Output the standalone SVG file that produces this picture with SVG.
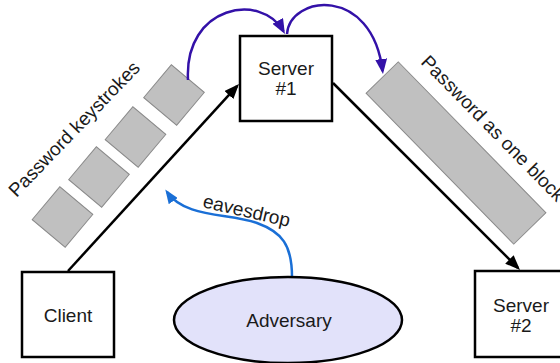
<svg xmlns="http://www.w3.org/2000/svg" width="560" height="363" viewBox="0 0 560 363">
  <style>
    .box { fill: #ffffff; stroke: #000000; stroke-width: 2.5; }
    .label { font-family: "Liberation Sans", Arial, sans-serif; font-size: 19px; fill: #1a1a1a; }
    .mid { text-anchor: middle; }
    .packet { fill: #c0c0c0; stroke: #8a8a8a; stroke-width: 1; }
    .link { fill: none; stroke: #000000; stroke-width: 2.5; }
    .hop { fill: none; stroke: #3311a8; stroke-width: 2.5; }
    .tap { fill: none; stroke: #1a6fd6; stroke-width: 2.5; }
  </style>
  <defs>
    <marker id="head-black" viewBox="0 0 15 12" refX="12" refY="6" markerWidth="15" markerHeight="12" markerUnits="userSpaceOnUse" orient="auto">
      <path d="M0,0 L15,6 L0,12 z" fill="#000000"/>
    </marker>
    <marker id="head-purple" viewBox="0 0 15 12" refX="12" refY="6" markerWidth="15" markerHeight="12" markerUnits="userSpaceOnUse" orient="auto">
      <path d="M0,0 L15,6 L0,12 z" fill="#3311a8"/>
    </marker>
    <marker id="head-blue" viewBox="0 0 14 11" refX="11" refY="5.5" markerWidth="14" markerHeight="11" markerUnits="userSpaceOnUse" orient="auto">
      <path d="M0,0 L14,5.5 L0,11 z" fill="#1a6fd6"/>
    </marker>
  </defs>

  <!-- keystroke packets along the client link -->
  <g id="keystrokes">
    <rect class="packet" x="-21.5" y="-21.5" width="43" height="43" transform="translate(174,95) rotate(40)"/>
    <rect class="packet" x="-21.5" y="-21.5" width="43" height="43" transform="translate(135.5,137) rotate(40)"/>
    <rect class="packet" x="-21.5" y="-21.5" width="43" height="43" transform="translate(99,177) rotate(40)"/>
    <rect class="packet" x="-21.5" y="-21.5" width="43" height="43" transform="translate(62.5,217) rotate(40)"/>
    <text class="label" transform="translate(16.5,198) rotate(-46)">Password keystrokes</text>
  </g>

  <!-- single packet along the server link -->
  <g id="block">
    <rect class="packet" x="-105.5" y="-22.5" width="211" height="45" transform="translate(456,153) rotate(45.6)"/>
    <text class="label" transform="translate(420,63) rotate(45.6)">Password as one block</text>
  </g>

  <!-- connectors -->
  <g id="connectors">
    <path class="link" d="M68,271 L237,86.2" marker-end="url(#head-black)"/>
    <path class="link" d="M333,83 L517.9,267.9" marker-end="url(#head-black)"/>
    <path class="hop" d="M188,80 C184,5 262,-8 283.5,31.4" marker-end="url(#head-purple)"/>
    <path class="hop" d="M287,34 C290,-5 372,-15 382.6,71" marker-end="url(#head-purple)"/>
    <path class="tap" d="M292,277 C292,245 282,232 257,223 C228,213 185,218 167,192" marker-end="url(#head-blue)"/>
    <text class="label" transform="translate(202,207) rotate(13)">eavesdrop</text>
  </g>

  <g id="client">
    <rect class="box" x="22" y="272" width="92" height="85"/>
    <text class="label mid" x="68" y="322">Client</text>
  </g>

  <g id="server1">
    <rect class="box" x="240" y="36" width="92" height="85"/>
    <text class="label mid" x="286" y="75">Server</text>
    <text class="label mid" x="286" y="95">#1</text>
  </g>

  <g id="server2">
    <rect class="box" x="475" y="271" width="92" height="86"/>
    <text class="label mid" x="521" y="312">Server</text>
    <text class="label mid" x="521" y="332">#2</text>
  </g>

  <g id="adversary">
    <ellipse cx="288" cy="320" rx="114" ry="43" fill="#e2e2fa" stroke="#000000" stroke-width="2.5"/>
    <text class="label mid" x="289" y="327">Adversary</text>
  </g>
</svg>
